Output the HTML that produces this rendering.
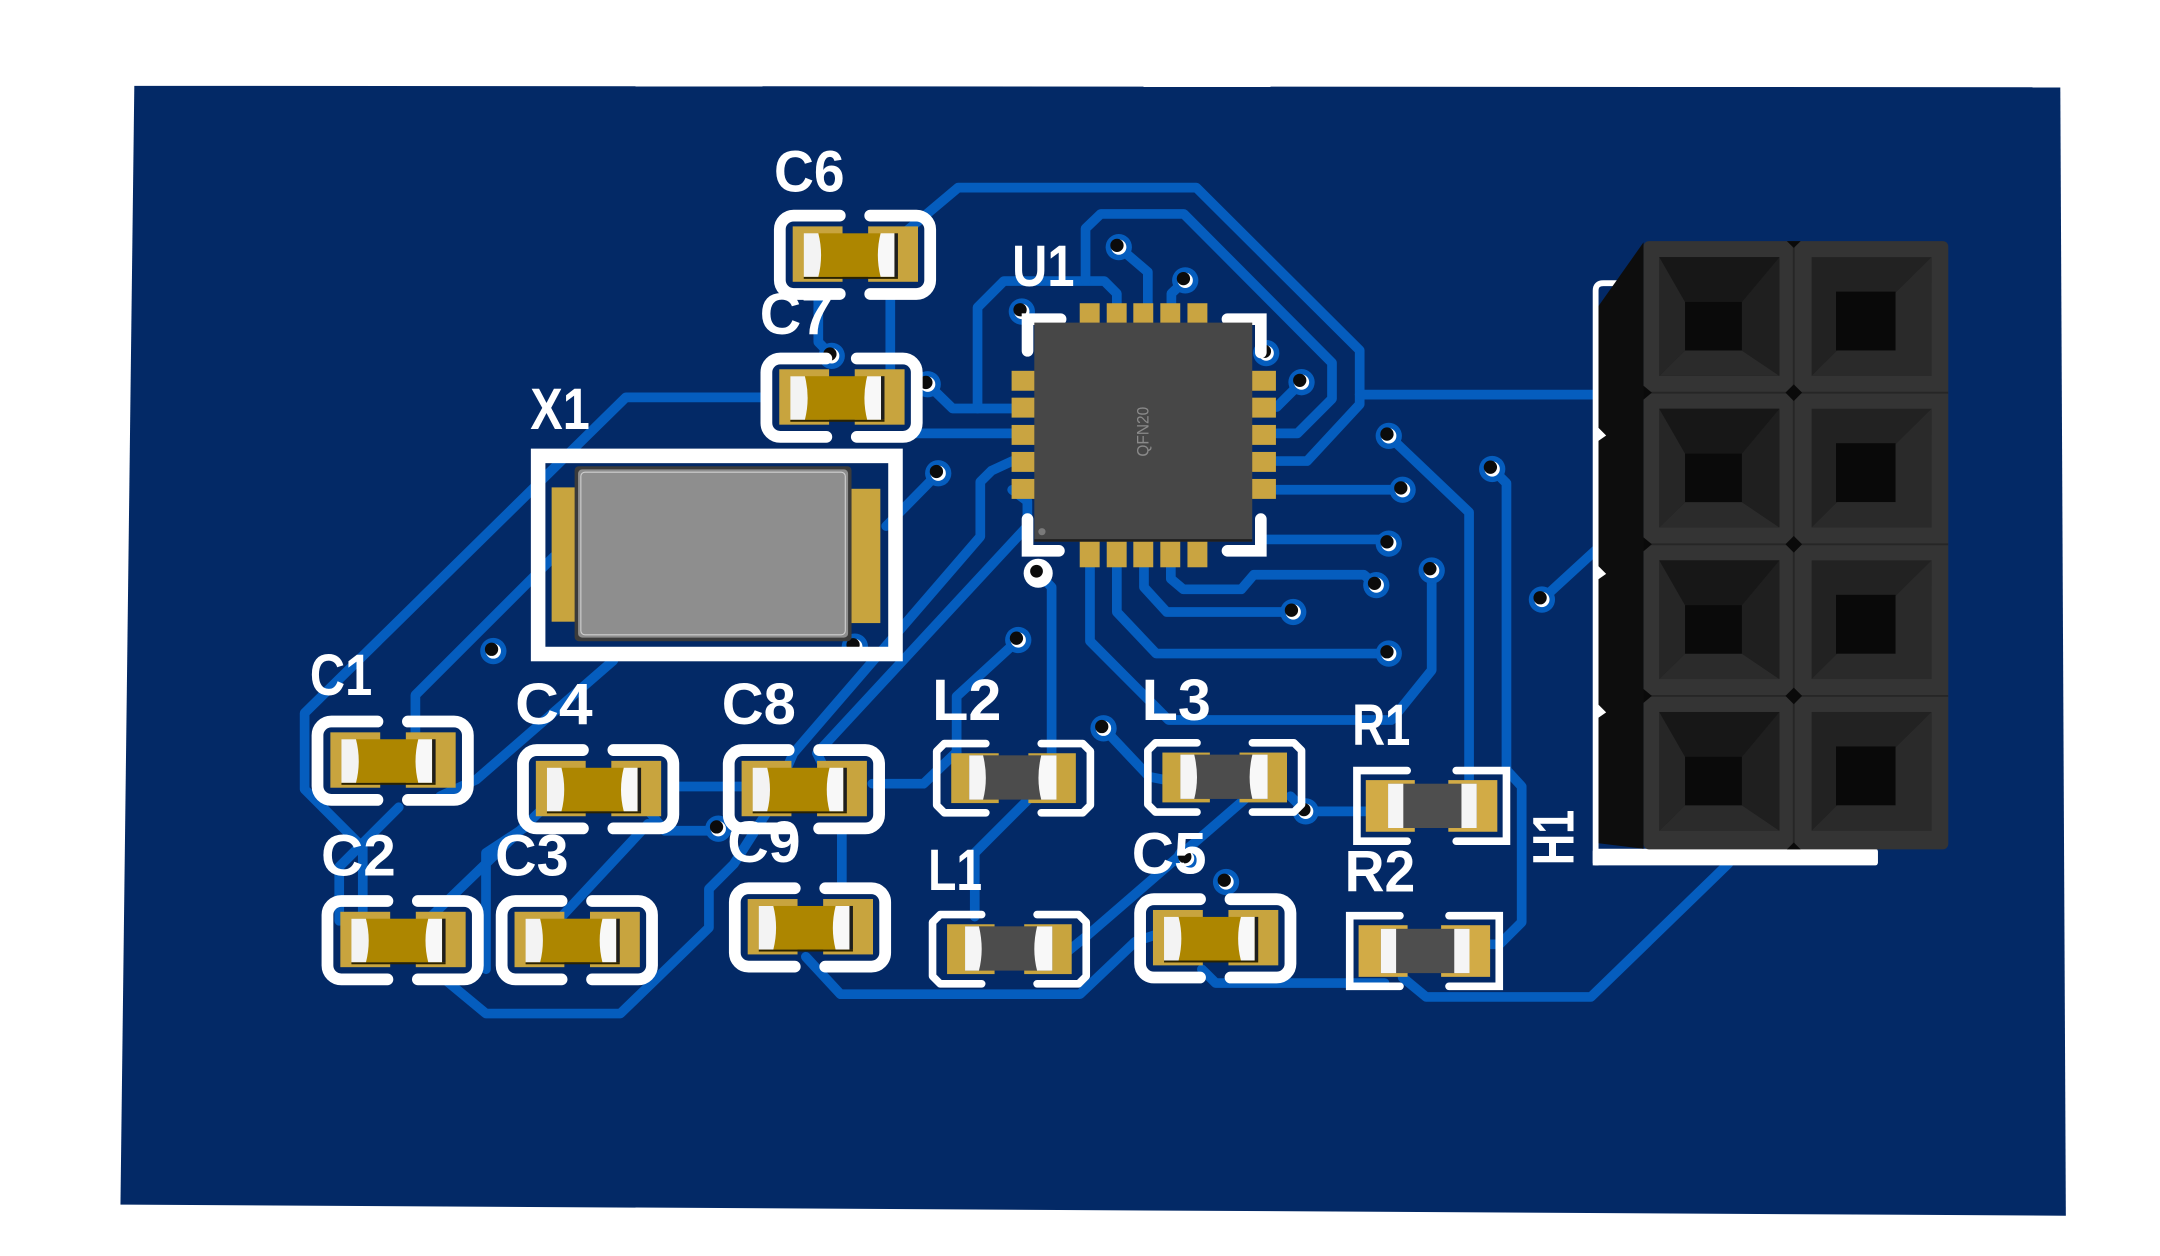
<!DOCTYPE html>
<html><head><meta charset="utf-8"><style>
html,body{margin:0;padding:0;background:#fff;width:2160px;height:1256px;overflow:hidden}
svg{display:block}
</style></head><body>
<svg width="2160" height="1256" viewBox="0 0 1560 907.1" preserveAspectRatio="none" xmlns="http://www.w3.org/2000/svg">
<defs>
<g id="cap">
<rect x="-45" y="-20.5" width="36" height="40" fill="#c8a43e"/>
<rect x="9.5" y="-20.5" width="36" height="40" fill="#c8a43e"/>
<rect x="-37" y="-15.5" width="68" height="31.5" fill="#ad8600"/>
<path d="M-37 -15.5 H-26.5 Q-22.5 0.25 -26.5 16 H-37 Z" fill="#f3f3f3"/>
<path d="M18.5 -15.5 H28.5 V16 H18.5 Q14.5 0.25 18.5 -15.5 Z" fill="#f8f8f8"/>
<rect x="28.5" y="-15.5" width="2.5" height="31.5" fill="#1e1e1e"/>
<rect x="-37" y="16" width="68" height="1.4" fill="#2a2200"/>
<path d="M-11 -28.3 H-44.3 A10 10 0 0 0 -54.3 -18.3 V18.3 A10 10 0 0 0 -44.3 28.3 H-11 M11 -28.3 H44.3 A10 10 0 0 1 54.3 -18.3 V18.3 A10 10 0 0 1 44.3 28.3 H11" fill="none" stroke="#fff" stroke-width="8.5" stroke-linecap="round"/>
</g>
<g id="ind">
<rect x="-45" y="-18" width="34.3" height="36" fill="#c8a43e"/>
<rect x="10.7" y="-18" width="34.3" height="36" fill="#c8a43e"/>
<rect x="-32" y="-16.5" width="63" height="32" fill="#4c4c4c"/>
<path d="M-32 -16.5 H-22 Q-18 0 -22 15.5 H-32 Z" fill="#f5f5f5"/>
<path d="M20 -16.5 H31 V15.5 H20 Q16 0 20 -16.5 Z" fill="#f8f8f8"/>
<path d="M-20 -25 H-50 L-55.5 -19.5 V19.5 L-50 25 H-20 M20 -25 H50 L55.5 -19.5 V19.5 L50 25 H20" fill="none" stroke="#fff" stroke-width="5.5" stroke-linecap="round" stroke-linejoin="round"/>
</g>
<g id="res">
<rect x="-47.6" y="-18.6" width="35.4" height="37.3" fill="#d2ab46"/>
<rect x="12" y="-18.6" width="35.4" height="37.3" fill="#d2ab46"/>
<rect x="-31.5" y="-16" width="64" height="32" fill="#4e4e4e"/>
<rect x="-31.5" y="-16" width="11" height="32" fill="#f5f5f5"/>
<rect x="21.5" y="-16" width="11" height="32" fill="#f5f5f5"/>
<path d="M-17.7 -25.5 H-54 V25.5 H-17.7 M17.7 -25.5 H54 V25.5 H17.7" fill="none" stroke="#fff" stroke-width="5.5" stroke-linecap="round"/>
</g>
<g id="via"><circle r="9.5" fill="#055dbe"/><circle r="5.5" fill="#fff"/><circle cx="-1.3" cy="-1.3" r="4.8" fill="#0b0b0b"/></g>
</defs>

<!-- board -->
<polygon points="97,62 1488,63 1492,878 87,870" fill="#032966"/>

<!-- traces -->
<g fill="none" stroke="#055dbe" stroke-width="7" stroke-linecap="round" stroke-linejoin="round">
<path d="M645 175 L692 135.5 H864 L982 253 V292 L944 333 H922"/>
<path d="M982 285 H1155"/>
<path d="M706 295 V222 L725 203 H797.6 L806.6 212 V222"/>
<path d="M784 202.5 V165 L795 154.5 H855 L962 262 V288 L937 313 H922"/>
<path d="M808 178.5 L829 196.5 V222"/>
<path d="M856 202.5 L846 212 V222"/>
<path d="M940 276 L922 294"/>
<path d="M922 353.7 H1013"/>
<path d="M915 389.6 H1003"/>
<path d="M845.6 408 V418 L854.6 425.6 H896.5 L905.5 415.1 H985 L994 422.6"/>
<path d="M826.2 408 V424 L842.6 442 H934"/>
<path d="M806.6 408 V442 L835 472 H1003"/>
<path d="M787.2 408 V463 L844 520 H1005 L1034 484 V412"/>
<path d="M1003 314.8 L1061 370 V565"/>
<path d="M1077.7 338.7 L1088 349 V556 L1099 568 V666 L1083 682 H1064"/>
<path d="M1113.6 433 L1155 395"/>
<path d="M1013 706 L1030 720 H1149 L1248.5 623.5"/>
<path d="M868 700 L878 710 H1000"/>
<path d="M932 575 L943 586 H990"/>
<path d="M797 526 L830 561 L840 563"/>
<path d="M905 572 L786 675 L770 688"/>
<path d="M745 575 L704 616 V662"/>
<path d="M735.4 462.2 L690.9 503 V565"/>
<path d="M749.8 414 L759.5 424 V560"/>
<path d="M731 333 L716 340 L708 348 V387.5 L573 544 L566 560"/>
<path d="M731 353.7 L742 362 V380 L590 544 L598 560"/>
<path d="M677.6 341.8 L640 380"/>
<path d="M591 213 V247 L600.7 257"/>
<path d="M643 214 V268"/>
<path d="M670 277.5 L688 295 H731"/>
<path d="M660 313 H731"/>
<path d="M550 287 H452 L220 515 V570 L262 612 V670"/>
<path d="M400 402 L300 502 V535"/>
<path d="M443 477 L344 563 L318 575"/>
<path d="M288 583 L245 626 V665"/>
<path d="M390 586 L305 668"/>
<path d="M468 595 L400 668"/>
<path d="M383 595 L351 616 V700"/>
<path d="M468 585 L480 600 H519"/>
<path d="M322 708 L351 732 H448 L512 670 V642 L530 624 L553 588"/>
<path d="M608 602 V642"/>
<path d="M582 691 L607 718 H780 L820 680 L835 675"/>
<path d="M490 568 H540"/>
<path d="M630 566 H667 L691 543"/>
</g>

<!-- vias -->
<use href="#via" x="808" y="178.5"/>
<use href="#via" x="856" y="202.5"/>
<use href="#via" x="738" y="225"/>
<use href="#via" x="914.5" y="255"/>
<use href="#via" x="940" y="276"/>
<use href="#via" x="600.7" y="257"/>
<use href="#via" x="670" y="277.5"/>
<use href="#via" x="677.6" y="341.8"/>
<use href="#via" x="1003" y="314.8"/>
<use href="#via" x="1013" y="353.7"/>
<use href="#via" x="1077.7" y="338.7"/>
<use href="#via" x="1003" y="392.6"/>
<use href="#via" x="994" y="422.6"/>
<use href="#via" x="1034" y="412"/>
<use href="#via" x="934" y="442"/>
<use href="#via" x="1003" y="472"/>
<use href="#via" x="1113.6" y="433"/>
<use href="#via" x="735.4" y="462.2"/>
<use href="#via" x="797" y="526"/>
<use href="#via" x="943" y="586"/>
<use href="#via" x="885.5" y="637"/>
<use href="#via" x="857" y="620"/>
<use href="#via" x="617.4" y="467"/>
<use href="#via" x="356.3" y="470.2"/>
<use href="#via" x="518.8" y="598.5"/>
<circle cx="749.8" cy="414" r="10.5" fill="#fff"/>
<circle cx="749.8" cy="414" r="5.5" fill="#fff"/>
<circle cx="748.6" cy="412.6" r="4.6" fill="#0b0b0b"/>

<!-- passive components -->
<use href="#cap" x="617.5" y="184"/>
<use href="#cap" x="607.8" y="287.2"/>
<use href="#cap" x="283.6" y="549.4"/>
<use href="#cap" x="432" y="570"/>
<use href="#cap" x="580.6" y="570"/>
<use href="#cap" x="290.8" y="679"/>
<use href="#cap" x="416.6" y="679"/>
<use href="#cap" x="585" y="669.8"/>
<use href="#cap" x="877.7" y="677.7"/>
<use href="#ind" x="732" y="562"/>
<use href="#ind" x="884.5" y="561.5"/>
<use href="#ind" x="729" y="685.5"/>
<use href="#res" x="1034" y="582"/>
<use href="#res" x="1028.8" y="686.8"/>

<!-- X1 -->
<rect x="388.65" y="329.25" width="258.1" height="143.1" fill="none" stroke="#fff" stroke-width="10.5"/>
<rect x="398.4" y="352" width="18" height="97" fill="#c8a43e"/>
<rect x="611.7" y="353" width="24.1" height="97" fill="#c8a43e"/>
<rect x="415" y="336.7" width="200" height="126.4" rx="3" fill="#3b3b3b"/>
<rect x="417.5" y="339" width="195" height="121.5" rx="3" fill="#8e8e8e"/>
<rect x="419.5" y="341" width="191" height="117.5" rx="3" fill="none" stroke="#cfcfcf" stroke-width="0.8"/>

<!-- U1 -->
<g fill="#c9a441">
<rect x="779.8" y="219" width="14.4" height="20"/>
<rect x="799.3" y="219" width="14.4" height="20"/>
<rect x="818.5" y="219" width="14.4" height="20"/>
<rect x="838" y="219" width="14.4" height="20"/>
<rect x="857.6" y="219" width="14.4" height="20"/>
<rect x="779.8" y="385" width="14.4" height="24.7"/>
<rect x="799.3" y="385" width="14.4" height="24.7"/>
<rect x="818.5" y="385" width="14.4" height="24.7"/>
<rect x="838" y="385" width="14.4" height="24.7"/>
<rect x="857.6" y="385" width="14.4" height="24.7"/>
<rect x="730.6" y="267.8" width="22" height="14.4"/>
<rect x="730.6" y="287.2" width="22" height="14.4"/>
<rect x="730.6" y="306.9" width="22" height="14.4"/>
<rect x="730.6" y="326.4" width="22" height="14.4"/>
<rect x="730.6" y="345.9" width="22" height="14.4"/>
<rect x="899" y="267.8" width="22.5" height="14.4"/>
<rect x="899" y="287.2" width="22.5" height="14.4"/>
<rect x="899" y="306.9" width="22.5" height="14.4"/>
<rect x="899" y="326.4" width="22.5" height="14.4"/>
<rect x="899" y="345.9" width="22.5" height="14.4"/>
</g>
<g fill="none" stroke="#fff" stroke-width="8.4" stroke-linecap="round" stroke-linejoin="miter">
<path d="M742.1 253.4 V230.5 H766"/>
<path d="M886.5 230.5 H910.6 V254.6"/>
<path d="M742.1 374.9 V397.8 H764.8"/>
<path d="M886.5 397.8 H910.6 V374.9"/>
</g>
<rect x="747" y="233" width="157.4" height="158.2" fill="#474747"/>
<rect x="747" y="389.4" width="157.4" height="1.8" fill="#1e1e1e"/>
<circle cx="752.5" cy="384" r="2.6" fill="#7a7a7a"/>
<text transform="translate(829.3,329.8) rotate(-90)" font-family="'Liberation Sans', sans-serif" font-size="11.7" fill="#8a8a8a" textLength="36" lengthAdjust="spacingAndGlyphs">QFN20</text>

<!-- header H1 -->
<path d="M1152.4 625 V210 Q1152.4 204.5 1158 204.5 H1168" fill="none" stroke="#fff" stroke-width="4.2"/>
<rect x="1150.3" y="613" width="206" height="12" rx="2" fill="#fff"/>
<polygon points="1154.5,221 1187,175 1187,613 1154.5,609" fill="#0d0d0d"/>
<polygon points="1153.5,308 1160,314.5 1153.5,319" fill="#fff"/>
<polygon points="1153.5,408 1160,414.5 1153.5,419" fill="#fff"/>
<polygon points="1153.5,508 1160,514.5 1153.5,519" fill="#fff"/>
<rect x="1187" y="174.1" width="220.1" height="439.3" rx="4" fill="#343434"/>
<g stroke="#262626" stroke-width="1.4">
<line x1="1187" y1="283.6" x2="1407" y2="283.6"/>
<line x1="1187" y1="393.1" x2="1407" y2="393.1"/>
<line x1="1187" y1="502.6" x2="1407" y2="502.6"/>
<line x1="1295.5" y1="174.1" x2="1295.5" y2="613"/>
</g>
<g fill="#0a0a0a">
<polygon points="1295.5,277.6 1301.5,283.6 1295.5,289.6 1289.5,283.6"/>
<polygon points="1295.5,387.1 1301.5,393.1 1295.5,399.1 1289.5,393.1"/>
<polygon points="1295.5,496.6 1301.5,502.6 1295.5,508.6 1289.5,502.6"/>
<polygon points="1290.5,174.1 1300.5,174.1 1295.5,179"/>
<polygon points="1290.5,613.4 1300.5,613.4 1295.5,608.5"/>
<polygon points="1187,278.6 1193,283.6 1187,288.6"/>
<polygon points="1187,388.1 1193,393.1 1187,398.1"/>
<polygon points="1187,497.6 1193,502.6 1187,507.6"/>
</g>

<g id="cells">
<!-- row 0 -->
<g>
<rect x="1198.4" y="185.7" width="86.7" height="85.7" fill="#1b1b1b"/>
<polygon points="1198.4,271.4 1285.1,271.4 1258,253.1 1217,253.1" fill="#2b2b2b"/>
<polygon points="1198.4,185.7 1217,218.1 1217,253.1 1198.4,271.4" fill="#262626"/>
<polygon points="1285.1,185.7 1285.1,271.4 1258,253.1 1258,218.1" fill="#1f1f1f"/>
<polygon points="1198.4,185.7 1285.1,185.7 1258,218.1 1217,218.1" fill="#171717"/>
<rect x="1217" y="218.1" width="41" height="35" fill="#0a0a0a"/>
<rect x="1308.4" y="185.7" width="86.6" height="85.7" fill="#222"/>
<polygon points="1395,185.7 1395,271.4 1308.4,271.4" fill="#2a2a2a"/>
<rect x="1326" y="210.6" width="43" height="42.5" fill="#090909"/>
</g>
<g transform="translate(0,109.5)">
<rect x="1198.4" y="185.7" width="86.7" height="85.7" fill="#1b1b1b"/>
<polygon points="1198.4,271.4 1285.1,271.4 1258,253.1 1217,253.1" fill="#2b2b2b"/>
<polygon points="1198.4,185.7 1217,218.1 1217,253.1 1198.4,271.4" fill="#262626"/>
<polygon points="1285.1,185.7 1285.1,271.4 1258,253.1 1258,218.1" fill="#1f1f1f"/>
<polygon points="1198.4,185.7 1285.1,185.7 1258,218.1 1217,218.1" fill="#171717"/>
<rect x="1217" y="218.1" width="41" height="35" fill="#0a0a0a"/>
<rect x="1308.4" y="185.7" width="86.6" height="85.7" fill="#222"/>
<polygon points="1395,185.7 1395,271.4 1308.4,271.4" fill="#2a2a2a"/>
<rect x="1326" y="210.6" width="43" height="42.5" fill="#090909"/>
</g>
<g transform="translate(0,219)">
<rect x="1198.4" y="185.7" width="86.7" height="85.7" fill="#1b1b1b"/>
<polygon points="1198.4,271.4 1285.1,271.4 1258,253.1 1217,253.1" fill="#2b2b2b"/>
<polygon points="1198.4,185.7 1217,218.1 1217,253.1 1198.4,271.4" fill="#262626"/>
<polygon points="1285.1,185.7 1285.1,271.4 1258,253.1 1258,218.1" fill="#1f1f1f"/>
<polygon points="1198.4,185.7 1285.1,185.7 1258,218.1 1217,218.1" fill="#171717"/>
<rect x="1217" y="218.1" width="41" height="35" fill="#0a0a0a"/>
<rect x="1308.4" y="185.7" width="86.6" height="85.7" fill="#222"/>
<polygon points="1395,185.7 1395,271.4 1308.4,271.4" fill="#2a2a2a"/>
<rect x="1326" y="210.6" width="43" height="42.5" fill="#090909"/>
</g>
<g transform="translate(0,328.5)">
<rect x="1198.4" y="185.7" width="86.7" height="85.7" fill="#1b1b1b"/>
<polygon points="1198.4,271.4 1285.1,271.4 1258,253.1 1217,253.1" fill="#2b2b2b"/>
<polygon points="1198.4,185.7 1217,218.1 1217,253.1 1198.4,271.4" fill="#262626"/>
<polygon points="1285.1,185.7 1285.1,271.4 1258,253.1 1258,218.1" fill="#1f1f1f"/>
<polygon points="1198.4,185.7 1285.1,185.7 1258,218.1 1217,218.1" fill="#171717"/>
<rect x="1217" y="218.1" width="41" height="35" fill="#0a0a0a"/>
<rect x="1308.4" y="185.7" width="86.6" height="85.7" fill="#222"/>
<polygon points="1395,185.7 1395,271.4 1308.4,271.4" fill="#2a2a2a"/>
<rect x="1326" y="210.6" width="43" height="42.5" fill="#090909"/>
</g>
</g>

<!-- labels -->
<g font-family="'Liberation Sans', sans-serif" font-weight="bold" font-size="42" fill="#fff">
<text x="559" y="138.3" textLength="51" lengthAdjust="spacingAndGlyphs">C6</text>
<text x="548.7" y="241.4" textLength="53" lengthAdjust="spacingAndGlyphs">C7</text>
<text x="731" y="206.6" textLength="45" lengthAdjust="spacingAndGlyphs">U1</text>
<text x="383" y="309.8" textLength="43" lengthAdjust="spacingAndGlyphs">X1</text>
<text x="223.8" y="501.8" textLength="45" lengthAdjust="spacingAndGlyphs">C1</text>
<text x="372" y="522.8" textLength="56" lengthAdjust="spacingAndGlyphs">C4</text>
<text x="521.3" y="522.8" textLength="53.5" lengthAdjust="spacingAndGlyphs">C8</text>
<text x="231.8" y="632.4" textLength="54" lengthAdjust="spacingAndGlyphs">C2</text>
<text x="357.6" y="632.4" textLength="53" lengthAdjust="spacingAndGlyphs">C3</text>
<text x="525.2" y="622.7" textLength="53" lengthAdjust="spacingAndGlyphs">C9</text>
<text x="673.2" y="520" textLength="50" lengthAdjust="spacingAndGlyphs">L2</text>
<text x="824.5" y="520" textLength="50" lengthAdjust="spacingAndGlyphs">L3</text>
<text x="670.3" y="642.8" textLength="39" lengthAdjust="spacingAndGlyphs">L1</text>
<text x="817.4" y="630.7" textLength="54" lengthAdjust="spacingAndGlyphs">C5</text>
<text x="976.6" y="538.1" textLength="42" lengthAdjust="spacingAndGlyphs">R1</text>
<text x="971.1" y="644" textLength="51" lengthAdjust="spacingAndGlyphs">R2</text>
<text transform="translate(1136.5,624.8) rotate(-90)" x="0" y="0" textLength="40" lengthAdjust="spacingAndGlyphs">H1</text>
</g>
</svg>
</body></html>
